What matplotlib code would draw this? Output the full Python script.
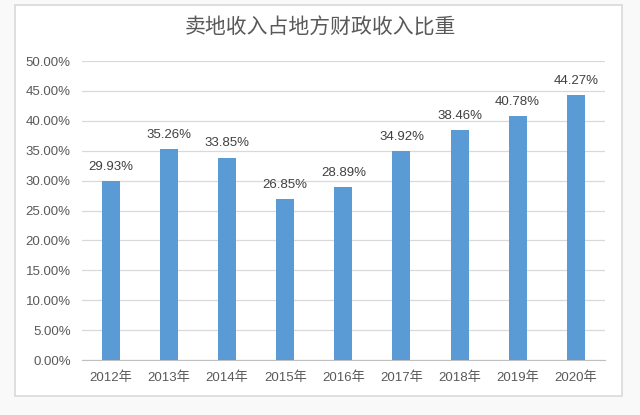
import numpy as np
import matplotlib.pyplot as plt
from matplotlib.patches import Rectangle

plt.rcParams['font.family'] = ['Liberation Sans', 'Noto Sans CJK SC', 'DejaVu Sans']

# data
years = ['2012年', '2013年', '2014年', '2015年', '2016年', '2017年', '2018年', '2019年', '2020年']
share = [29.93, 35.26, 33.85, 26.85, 28.89, 34.92, 38.46, 40.78, 44.27]

fig = plt.figure(figsize=(6.4, 4.15), dpi=100, facecolor='#f9f9f9')
box = Rectangle((0.0234, 0.046), 0.9486, 0.942, transform=fig.transFigure,
                facecolor='white', edgecolor='#d9d9d9', linewidth=1.2, zorder=-5)
fig.add_artist(box)

ax = fig.add_axes([0.128, 0.1325, 0.817, 0.7205])
ax.set_facecolor('none')
x = np.arange(len(years))
ax.bar(x, share, width=0.31, color='#5b9bd5', zorder=3)

for xi, v in zip(x, share):
    ax.annotate(f'{v:.2f}%', (xi, v), xytext=(0, 8), textcoords='offset points',
                ha='center', va='baseline', fontsize=9.5, color='#404040')

ax.set_xlim(-0.5, len(years) - 0.5)
ax.set_ylim(0, 50)
ax.set_yticks(np.arange(0, 51, 5))
ax.set_yticklabels([f'{t:.2f}%' for t in np.arange(0, 51, 5)])
ax.set_xticks(x)
ax.set_xticklabels(years)
ax.tick_params(length=0, labelsize=9.5, colors='#595959', pad=8)
ax.yaxis.grid(True, color='#d9d9d9', linewidth=0.9, zorder=0)
for s in ['top', 'right', 'left']:
    ax.spines[s].set_visible(False)
ax.spines['bottom'].set_color('#bfbfbf')

fig.text(0.5, 1 - 28 / 415, '卖地收入占地方财政收入比重', ha='center', va='center',
         fontsize=15, color='#595959', family='Noto Sans CJK SC')

plt.savefig('out.png', dpi=100, facecolor=fig.get_facecolor())
